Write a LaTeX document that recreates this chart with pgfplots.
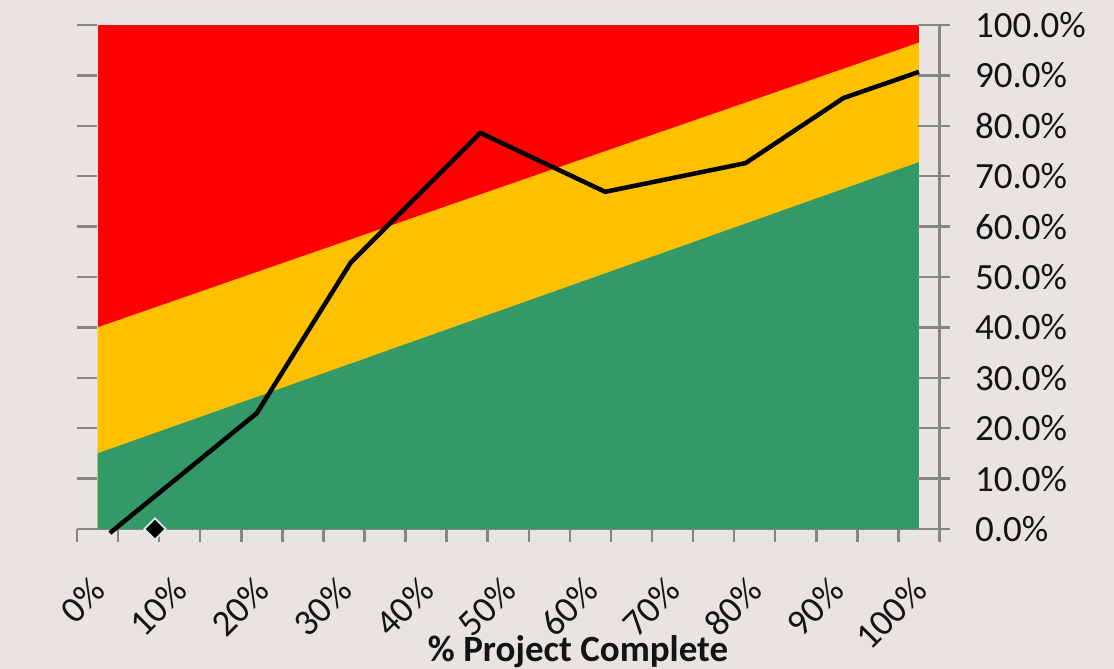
\documentclass[border=0pt]{standalone}
\usepackage{pgfplots}
\pgfplotsset{compat=1.18}
\usepackage{fontspec}
\setmainfont{Carlito}
\definecolor{bg}{RGB}{232,228,225}
\definecolor{axgray}{RGB}{134,134,134}
\definecolor{zred}{RGB}{255,0,0}
\definecolor{zyellow}{RGB}{255,192,0}
\definecolor{zgreen}{RGB}{51,153,102}
\definecolor{txt}{RGB}{20,20,20}
\definecolor{mkedge}{RGB}{215,235,235}
\begin{document}
\begin{tikzpicture}
\fill[bg] (0pt,0pt) rectangle (1114pt,669pt);
\useasboundingbox (0pt,0pt) rectangle (1114pt,669pt);
\begin{axis}[
  at={(77pt,140pt)}, anchor=south west,
  scale only axis, width=862.5pt, height=504pt,
  xmin=-2.5, xmax=102.5, ymin=0, ymax=100,
  axis x line*=bottom, axis y line*=left,
  y axis line style={draw=none},
  x axis line style={draw=axgray, line width=2.8pt, -},
  tick align=outside, major tick length=13pt,
  xtick={-2.5,2.5,7.5,12.5,17.5,22.5,27.5,32.5,37.5,42.5,47.5,52.5,57.5,62.5,67.5,72.5,77.5,82.5,87.5,92.5,97.5,102.5},
  xticklabels={},
  xtick style={draw=axgray, line width=2.5pt},
  ytick=\empty,
  extra y ticks={0,10,20,30,40,50,60,70,80,90,100},
  extra y tick labels={},
  extra y tick style={major tick length=20pt},
  ytick style={draw=axgray, line width=2.5pt, xshift=20pt},
  xlabel={\% Project Complete},
  xlabel style={at={(axis description cs:0.581,-0.262)}, anchor=base, font=\fontsize{37}{37}\selectfont\bfseries, text=txt},
]
\addplot[fill=zred, draw=none] coordinates {(0,100) (100,100)} \closedcycle;
\addplot[fill=zyellow, draw=none] coordinates {(0,40) (50,68.3) (100,96.5)} \closedcycle;
\addplot[fill=zgreen, draw=none] coordinates {(0,15) (50,43.9) (100,72.8)} \closedcycle;
\node[rotate=90, font=\fontsize{37}{37}\selectfont\bfseries, text=txt] at (axis description cs:-0.0394,0.466) {\% Buffer Consumed};
\end{axis}
\begin{axis}[
  at={(77pt,140pt)}, anchor=south west,
  scale only axis, width=862.5pt, height=504pt,
  xmin=-2.5, xmax=102.5, ymin=0, ymax=100,
  axis x line*=bottom, axis y line*=right,
  x axis line style={draw=none},
  y axis line style={draw=axgray, line width=2.8pt, -},
  tick align=inside, major tick length=32pt,
  xtick={0,10,20,30,40,50,60,70,80,90,100},
  xticklabels={0\%,10\%,20\%,30\%,40\%,50\%,60\%,70\%,80\%,90\%,100\%},
  xtick style={draw=none},
  xticklabel style={xshift=-8pt, yshift=-46pt, rotate=45, anchor=north east, inner sep=0pt, font=\fontsize{37}{37}\selectfont, text=txt},
  ytick={0,10,20,30,40,50,60,70,80,90,100},
  ytick style={draw=axgray, line width=2.5pt, xshift=10pt},
  yticklabel={\pgfmathprintnumber[fixed,fixed zerofill,precision=1]{\tick}\%},
  yticklabel style={anchor=west, xshift=32pt, font=\fontsize{37}{37}\selectfont, text=txt},
  /pgf/number format/assume math mode=true,
  clip=false,
]
\addplot[black, line width=4.5pt, line join=round] coordinates {(1.5,-0.8) (19.4,23.0) (30.8,52.8) (46.6,78.6) (61.8,66.9) (78.9,72.6) (90.8,85.5) (100,90.7)};
\addplot[only marks, mark=square*, mark size=7.5pt, mark options={rotate=45, fill=black, draw=mkedge, line width=1.8pt}] coordinates {(7,0)};
\end{axis}
\end{tikzpicture}
\end{document}
